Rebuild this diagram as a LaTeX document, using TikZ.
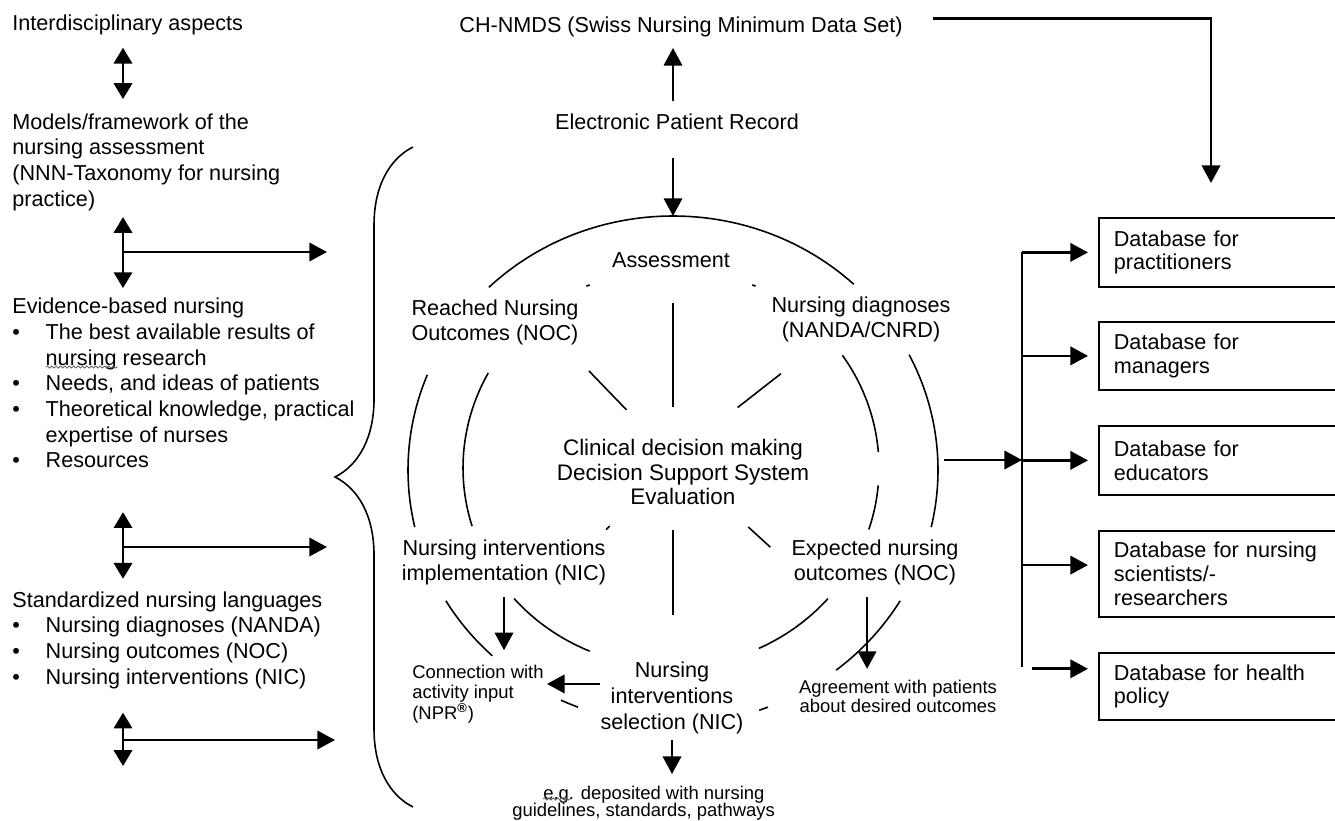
\documentclass[tikz,border=0pt]{standalone}
\usepackage{fontspec}
\setmainfont{Liberation Sans}
\usetikzlibrary{arrows.meta,decorations.pathreplacing,decorations.pathmorphing}
\newcommand{\mainsz}{\fontsize{12.3}{14.6}\selectfont}
\newcommand{\ringsz}{\fontsize{12.3}{14.2}\selectfont}
\newcommand{\boxsz}{\fontsize{12.3}{13.6}\selectfont}
\newcommand{\notesz}{\fontsize{10.5}{11.8}\selectfont}
\newcommand{\bitem}[1]{\makebox[19pt][l]{\textbullet}#1}
\newcommand{\bcont}{\hspace*{19pt}}

\begin{document}
\begin{tikzpicture}[x=0.02cm,y=-0.02cm]
\useasboundingbox (0,0) rectangle (1335,821);
\clip (0,0) rectangle (1335,821);
\tikzstyle{every node}=[inner sep=0pt];
\tikzstyle{lefttext}=[anchor=west,align=left,font=\mainsz];
\tikzstyle{ringtext}=[align=center,font=\ringsz];
\tikzstyle{note}=[font=\notesz];
\tikzstyle{dbbox}=[draw,line width=1pt,anchor=north west,text width=5cm,inner xsep=0.3cm,align=left,font=\boxsz];
\tikzstyle{arr}=[line width=1.5pt,-{Triangle[length=10pt,width=10.4pt]}];
\tikzstyle{darr}=[line width=1.5pt,{Triangle[length=9pt,width=10.4pt]}-{Triangle[length=9pt,width=10.4pt]}];
\tikzstyle{ring}=[line width=0.9pt];
\tikzstyle{squiggle}=[black!60,line width=0.5pt,decorate,decoration={snake,amplitude=0.6pt,segment length=2.5pt}];

% left column
\node (inter)[lefttext] at (12,25) {Interdisciplinary aspects};
\node (models)[lefttext] at (12,162) {Models/framework of the\\nursing assessment\\(NNN-Taxonomy for nursing\\practice)};
\node (ebn)[lefttext] at (12,383) {Evidence-based nursing\\\bitem{The best available results of}\\\bcont nursing research\\\bitem{Needs, and ideas of patients}\\\bitem{Theoretical knowledge, practical}\\\bcont expertise of nurses\\\bitem{Resources}};
\node (snl)[lefttext] at (12,640) {Standardized nursing languages\\\bitem{Nursing diagnoses (NANDA)}\\\bitem{Nursing outcomes (NOC)}\\\bitem{Nursing interventions (NIC)}};
\draw[squiggle] (46,367) -- (118,367);

\coordinate (lx) at (123,0);
\coordinate (a4e) at (123,766);
\coordinate (h2s) at (123,252);
\coordinate (h2e) at (327,252);
\coordinate (h3s) at (123,547);
\coordinate (h3e) at (327,547);
\coordinate (h4s) at (123,740);
\coordinate (h4e) at (335,740);
\draw[darr,shorten <=7pt,shorten >=8pt] (inter.south -| lx) -- (models.north -| lx);
\draw[darr,shorten <=3.5pt,shorten >=5.5pt] (models.south -| lx) -- (ebn.north -| lx);
\draw[darr,shorten <=25pt,shorten >=7pt] (ebn.south -| lx) -- (snl.north -| lx);
\draw[darr,shorten <=13.5pt] (snl.south -| lx) -- (a4e);
\draw[arr] (h2s) -- (h2e);
\draw[arr] (h3s) -- (h3e);
\draw[arr] (h4s) -- (h4e);

\draw[line width=0.9pt,decorate,decoration={brace,amplitude=1.56cm}] (413,807) -- (413,147);

% top
\node (ch)[ringtext] at (681,27) {CH-NMDS (Swiss Nursing Minimum Data Set)};
\node (epr)[ringtext] at (677,122) {Electronic Patient Record};
\coordinate (ctop) at (673,216);
\coordinate (dbin) at (1211,183);
\draw[arr,shorten <=7pt,shorten >=6pt] (epr.north -| ctop) -- (ch.south -| ctop);
\draw[arr,shorten <=16pt] (epr.south -| ctop) -- (ctop);
\draw[arr,shorten <=17pt] ([yshift=5pt]ch.east) -| (dbin);

% ring
\coordinate (oc) at (673,470);
\coordinate (ic) at (671,468);
\coordinate (sc) at (673,458);
\foreach \p/\q in {-134/-47,167/202,133/149,111/115,69/71,31/52,-27/13}
  \draw[ring] (oc) ++(\p:265 and 254) arc[start angle=\p,end angle=\q,x radius=265,y radius=254];
\foreach \p/\q in {163/208.5,113/139,41/65,-34.5/-4.6,5/18,-114/-113,-67/-66}
  \draw[ring] (ic) ++(\p:208 and 199) arc[start angle=\p,end angle=\q,x radius=208,y radius=199];
\foreach \a/\r/\l in {-90/51/104,-134/67/54,-38/82/55,90/72/85,42.5/102/30,133/93/5}
  \draw[ring] (sc) ++(\a:\r) -- ++(\a:\l);

\node (assess)[ringtext] at (671,260) {Assessment};
\node (reached)[ringtext] at (495,322) {Reached Nursing\\Outcomes (NOC)};
\node (ndiag)[ringtext] at (861,319) {Nursing diagnoses\\(NANDA/CNRD)};
\node (cdm)[ringtext,font=\fontsize{12.8}{14.2}\selectfont] at (683,472) {Clinical decision making\\Decision Support System\\Evaluation};
\node (nimpl)[ringtext] at (504,562) {Nursing interventions\\implementation (NIC)};
\node (expect)[ringtext] at (875,562) {Expected nursing\\outcomes (NOC)};
\node (nsel)[ringtext,font=\fontsize{12.3}{15}\selectfont] at (672,698) {Nursing\\interventions\\selection (NIC)};
\node (conn)[note,anchor=west,align=left] at (412,694) {Connection with\\activity input\\(NPR\textsuperscript{\textbf{\textregistered}})};
\node (agree)[note,align=center,font=\fontsize{10.5}{10.8}\selectfont] at (898,696) {Agreement with patients\\about desired outcomes};
\node (eg)[note,anchor=west,align=left,font=\fontsize{10.5}{9.8}\selectfont] at (512,803) {\hspace*{17.6pt}e.g. deposited with nursing\\guidelines, standards, pathways};
\draw[squiggle] (543,799) -- (571,799);

\draw[arr,shorten <=7pt,shorten >=8pt] (nimpl.south) -- (nimpl.south |- conn.north);
\coordinate (nslft) at ([yshift=8pt]nsel.west);
\draw[arr,shorten >=1.7pt] (nslft) -- (nslft -| conn.east);
\draw[arr,shorten <=3pt,shorten >=6.5pt] (nsel.south) -- (nsel.south |- eg.north);
\coordinate (exl) at ([xshift=-4.5pt]expect.south);
\draw[arr,shorten <=7pt,shorten >=6pt] (exl) -- (exl |- agree.north);

% databases
\node (db1)[dbbox,minimum height=1.38cm] at (1098,217) {Database for\\practitioners};
\node (db2)[dbbox,minimum height=1.36cm] at (1098,321) {Database for\\managers};
\node (db3)[dbbox,minimum height=1.38cm] at (1098,425) {Database for\\educators};
\node (db4)[dbbox,minimum height=1.72cm] at (1098,530) {Database for nursing\\scientists/-\\researchers};
\node (db5)[dbbox,minimum height=1.34cm] at (1098,652) {Database for health\\policy};

\coordinate (bt) at (1022,252);
\coordinate (bb) at (1022,667);
\coordinate (cout) at (944,460);
\coordinate (d4) at ([yshift=5pt]db4.west);
\coordinate (d5) at ([yshift=10pt]db5.west);
\draw[line width=1.4pt] (bt) -- (bb);
\draw[arr] (cout) -- (cout -| bt);
\foreach \b in {db1,db2,db3}
  \draw[arr,shorten >=5.7pt] (bt |- \b.west) -- (\b.west);
\draw[arr,shorten >=5.7pt] (bt |- d4) -- (d4);
\draw[arr,shorten <=5.7pt,shorten >=5.7pt] (bb |- d5) -- (d5);
\end{tikzpicture}
\end{document}
